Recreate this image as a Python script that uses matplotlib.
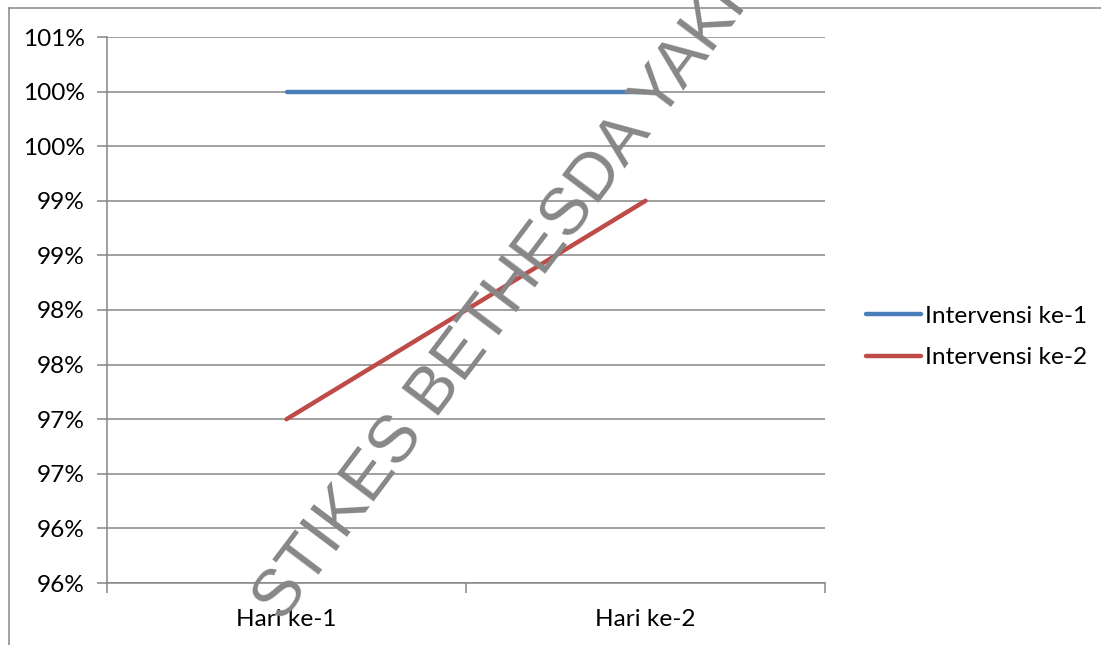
import matplotlib
matplotlib.use("Agg")
import matplotlib.pyplot as plt
from matplotlib.lines import Line2D

# Chart data
categories = ["Hari ke-1", "Hari ke-2"]
series_names = ["Intervensi ke-1", "Intervensi ke-2"]
intervensi_1 = [1.00, 1.00]
intervensi_2 = [0.97, 0.99]
y_ticks = [0.955, 0.960, 0.965, 0.970, 0.975, 0.980, 0.985, 0.990, 0.995, 1.000, 1.005]
y_tick_labels = ["96%", "96%", "97%", "97%", "98%", "98%", "99%", "99%", "100%", "100%", "101%"]

FONT = "Lato"
FS = 17.6
GRID = "#868686"
COLORS = ["#4A7EBB", "#BE4B48"]
LW = 3.2

W, H = 1101, 645
fig = plt.figure(figsize=(W / 100, H / 100), dpi=100)
fig.patch.set_facecolor("white")

ax = fig.add_axes([107 / W, 1 - 583 / H, (825 - 107) / W, (583 - 37) / H])
x = list(range(len(categories)))

for vals, name, col in zip([intervensi_1, intervensi_2], series_names, COLORS):
    ax.plot(x, vals, color=col, lw=LW, solid_capstyle="round", label=name, zorder=3)

ax.set_xlim(-0.5, len(categories) - 0.5)
ax.set_ylim(y_ticks[0], y_ticks[-1])

ax.set_yticks(y_ticks)
ax.set_yticklabels(y_tick_labels, fontsize=FS, family=FONT)
ax.yaxis.grid(True, color=GRID, lw=1.1, zorder=1)
ax.set_axisbelow(True)

# category labels centred, tick marks on category boundaries
ax.set_xticks(x)
ax.set_xticklabels(categories, fontsize=FS, family=FONT)
ax.tick_params(axis="x", which="major", length=0, pad=19)
ax.set_xticks([-0.5 + i for i in range(len(categories) + 1)], minor=True)
ax.tick_params(axis="x", which="minor", length=7, width=1.1, color=GRID, direction="out")
ax.tick_params(axis="y", length=7, width=1.1, color=GRID, direction="out", pad=9)

for s in ["top", "right"]:
    ax.spines[s].set_visible(False)
for s in ["left", "bottom"]:
    ax.spines[s].set_color(GRID)
    ax.spines[s].set_linewidth(1.1)

# legend on the right
handles = [Line2D([0], [0], color=c, lw=LW, solid_capstyle="round") for c in COLORS]
leg = fig.legend(handles, series_names, loc="center left",
                 bbox_to_anchor=(854 / W, 1 - 337 / H), frameon=False,
                 prop={"family": FONT, "size": FS}, handlelength=2.25,
                 handletextpad=0.15, labelspacing=0.85, borderpad=0)

# outer chart frame
fig.add_artist(Line2D([8.5 / W, 8.5 / W], [0, 1 - 7.5 / H], color=GRID, lw=1.1,
                      transform=fig.transFigure))
fig.add_artist(Line2D([8.5 / W, 1], [1 - 7.5 / H, 1 - 7.5 / H], color=GRID, lw=1.1,
                      transform=fig.transFigure))

# diagonal watermark
fig.text(283 / W, 1 - 624 / H, "STIKES BETHESDA YAKKUM", rotation=53,
         rotation_mode="anchor", ha="left", va="baseline", color="#878787",
         fontsize=48, family="Liberation Sans", zorder=10)

fig.savefig("out.png", dpi=100, facecolor="white")
